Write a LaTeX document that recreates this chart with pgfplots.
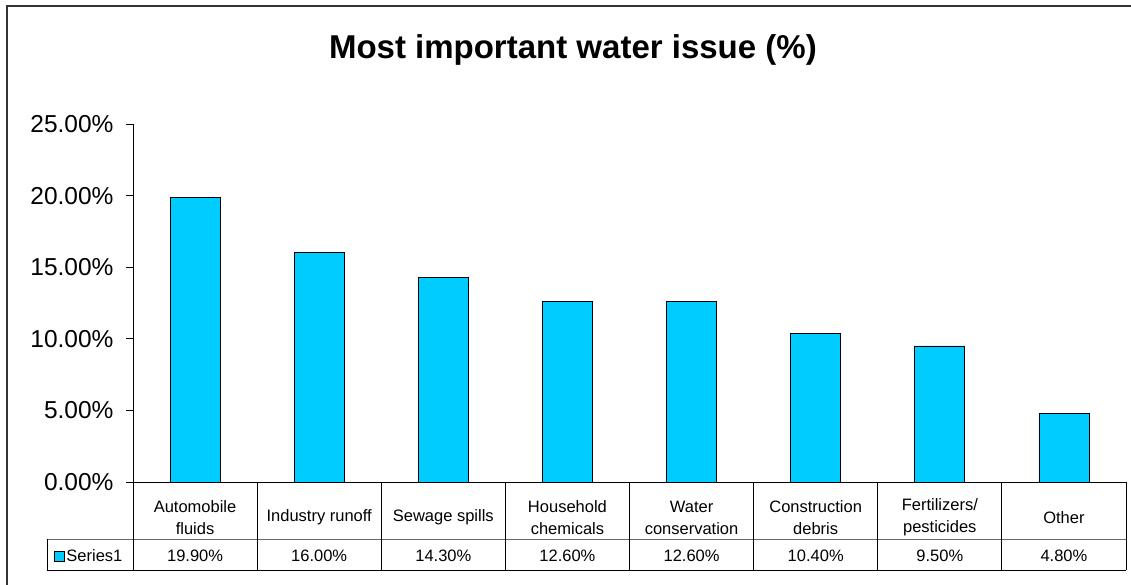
\documentclass[border=0pt]{standalone}
\usepackage{pgfplots}
\pgfplotsset{compat=1.18}
\usepackage{pgfplotstable}
\usepackage{fontspec}
\setmainfont{Liberation Sans}
\definecolor{barcyan}{RGB}{0,204,255}
\definecolor{framegray}{RGB}{51,51,51}
\pgfplotsset{squarelegend/.style={legend image code/.code={\draw[##1] (0bp,-5bp) rectangle (10bp,5bp);}}}

% share of answers, in percent
\pgfplotstableread{
x y
0 19.9
1 16.0
2 14.3
3 12.6
4 12.6
5 10.4
6 9.5
7 4.8
}\issues

\begin{document}
\begin{tikzpicture}[x=1bp,y=1bp]
\useasboundingbox (0,0) rectangle (1131,585);
\draw[framegray, line width=1.5bp] (7,0) -- (7,579) -- (1131,579);
\begin{axis}[
    at={(133bp,103bp)}, anchor=south west,
    scale only axis, width=993bp, height=358bp,
    xmin=-0.5, xmax=7.5, ymin=0, ymax=25,
    axis lines*=left,
    axis line style={black, line width=0.8bp},
    clip=false,
    ybar, bar width=50bp,
    xtick=data,
    xticklabels={{Automobile\\fluids}, {Industry runoff}, {Sewage spills},
        {Household\\chemicals}, {Water\\conservation}, {Construction\\debris},
        {Fertilizers/\\pesticides}, {Other}},
    x tick style={draw=none},
    xticklabel style={font=\fontsize{16.5bp}{22bp}\selectfont, align=center,
        anchor=center, yshift=-28.5bp},
    ytick={0,5,...,25},
    tick align=outside, major tick length=7bp,
    y tick style={black, line width=0.8bp},
    yticklabel={\pgfmathprintnumber[fixed,fixed zerofill,precision=2,assume math mode=true]{\tick}\%},
    yticklabel style={font=\fontsize{24.5bp}{28bp}\selectfont, xshift=-9bp},
    title={Most important water issue (\%)},
    title style={font=\bfseries\fontsize{33bp}{38bp}\selectfont,
        at={(axis description cs:0.443,1.1676)}, anchor=base, yshift=0pt},
    nodes near coords={\pgfmathprintnumber[fixed,fixed zerofill,precision=2,assume math mode=true]{\pgfplotspointmeta}\%},
    nodes near coords align={center},
    visualization depends on={y \as \barval},
    every node near coord/.append style={font=\fontsize{16.5bp}{20bp}\selectfont,
        anchor=center, yshift={-\barval*14.32bp-74bp}},
    legend style={at={(axis description cs:-0.0443,-0.2067)}, anchor=center,
        draw=none, fill=none, inner sep=0pt, font=\fontsize{16.5bp}{20bp}\selectfont},
]
\addplot[fill=barcyan, draw=black, line width=0.8bp, squarelegend]
    table[x=x, y=y] {\issues};
\addlegendentry{Series1}
\end{axis}
% data table grid under the plot
\draw[black!60, line width=0.8bp] (47,46) -- (1126,46);
\draw[black, line width=0.8bp] (47,15) -- (1126,15);
\draw[black, line width=0.8bp] (47,15) -- (47,46);
\foreach \i in {0,...,8}
    \draw[black, line width=0.8bp] (133+124.125*\i,15) -- (133+124.125*\i,103);
\end{tikzpicture}
\end{document}
